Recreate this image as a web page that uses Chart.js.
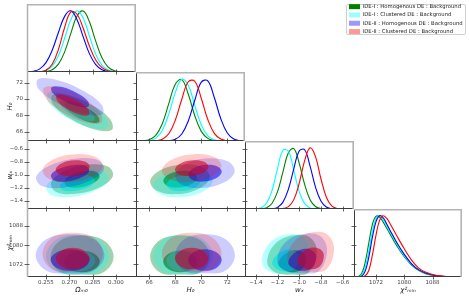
<!DOCTYPE html>
<html>
<head>
<meta charset="utf-8">
<script src="https://cdn.jsdelivr.net/npm/chart.js@4.4.1/dist/chart.umd.min.js"></script>
<style>
html, body { margin: 0; padding: 0; background: #fff; }
#fig { position: relative; width: 469px; height: 297px; overflow: hidden; }
#fig canvas { position: absolute; }
#legendBox { position: absolute; left: 346px; top: 4px; width: 120px; height: 31px; border: 1px solid #d0d0d0; border-radius: 2px; box-sizing: border-box; }
</style>
</head>
<body>
<div id="fig"><div id="legendBox"></div></div>
<script>
// ---- data ----
const seriesLabels = [
    'IDE-I : Homogenous DE : Background',
    'IDE-I : Clustered DE : Background',
    'IDE-II : Homogenous DE : Background',
    'IDE-II : Clustered DE : Background'
];
const paramTitles = ['Ωₘ₀', 'H₀', 'wₓ', 'χ²ₘᵢₙ'];

// tick labels
const omegaTicks = [0.255, 0.270, 0.285, 0.300];
const h0Ticks = [66, 68, 70, 72];
const wTicks = [-1.4, -1.2, -1.0, -0.8, -0.6];
const chiTicks = [1072, 1080, 1088];

// 1D marginals (green, cyan, blue, red)
const omGrid  = [0.243, 0.247, 0.251, 0.255, 0.259, 0.263, 0.267, 0.271, 0.275, 0.279, 0.283, 0.287, 0.291, 0.295, 0.299, 0.303, 0.307, 0.311];
const omGreen = [0, 0.0002, 0.0014, 0.0084, 0.038, 0.128, 0.328, 0.631, 0.913, 0.994, 0.815, 0.503, 0.233, 0.081, 0.021, 0.004, 0.0006, 0];
const omCyan  = [0, 0.0009, 0.0055, 0.027, 0.097, 0.266, 0.551, 0.855, 1.0, 0.879, 0.582, 0.290, 0.109, 0.031, 0.0065, 0.001, 0, 0];
const omBlue  = [0.0027, 0.0133, 0.051, 0.153, 0.355, 0.644, 0.908, 0.998, 0.854, 0.569, 0.296, 0.119, 0.038, 0.0093, 0.0018, 0, 0, 0];
const omRed   = [0, 0.0005, 0.005, 0.030, 0.127, 0.367, 0.726, 0.983, 0.943, 0.709, 0.420, 0.196, 0.072, 0.021, 0.005, 0.001, 0, 0];

const h0Grid  = [65, 65.5, 66, 66.5, 67, 67.5, 68, 68.5, 69, 69.5, 70, 70.5, 71, 71.5, 72, 72.5, 73, 73.5];
const h0Green = [0.0004, 0.0035, 0.021, 0.091, 0.278, 0.600, 0.914, 0.987, 0.753, 0.406, 0.155, 0.042, 0.008, 0.001, 0, 0, 0, 0];
const h0Cyan  = [0.0001, 0.0013, 0.0093, 0.047, 0.170, 0.433, 0.779, 0.993, 0.895, 0.571, 0.258, 0.082, 0.0185, 0.003, 0.0003, 0, 0, 0];
const h0Blue  = [0, 0, 0, 0.0001, 0.0006, 0.0047, 0.027, 0.112, 0.322, 0.656, 0.947, 0.967, 0.699, 0.357, 0.129, 0.033, 0.006, 0.0008];
const h0Red   = [0, 0.0001, 0.0006, 0.005, 0.029, 0.117, 0.334, 0.671, 0.954, 0.961, 0.684, 0.345, 0.123, 0.031, 0.0055, 0.0007, 0, 0];

const wGrid  = [-1.5, -1.45, -1.4, -1.35, -1.3, -1.25, -1.2, -1.15, -1.1, -1.05, -1.0, -0.95, -0.9, -0.85, -0.8, -0.75, -0.7, -0.65, -0.6, -0.55, -0.5];
const wGreen = [0, 0, 0.0004, 0.0037, 0.022, 0.093, 0.283, 0.607, 0.919, 0.984, 0.746, 0.401, 0.152, 0.041, 0.0077, 0.001, 0, 0, 0, 0, 0];
const wCyan  = [0, 0.0003, 0.003, 0.020, 0.097, 0.306, 0.660, 0.959, 0.945, 0.629, 0.283, 0.087, 0.018, 0.0025, 0.0002, 0, 0, 0, 0, 0, 0];
const wBlue  = [0, 0, 0, 0, 0.0006, 0.0048, 0.027, 0.112, 0.322, 0.656, 0.947, 0.967, 0.699, 0.356, 0.130, 0.033, 0.006, 0.0008, 0, 0, 0];
const wRed   = [0, 0, 0, 0, 0, 0, 0.0007, 0.0062, 0.038, 0.153, 0.422, 0.789, 0.998, 0.854, 0.494, 0.193, 0.051, 0.0093, 0.0011, 0, 0];

const chiGrid  = [1066, 1067, 1068, 1069, 1070, 1071, 1072, 1073, 1074, 1075, 1076, 1078, 1080, 1082, 1084, 1086, 1088, 1090, 1092, 1094, 1096];
const chiGreen = [0, 0.005, 0.06, 0.25, 0.56, 0.86, 0.99, 0.98, 0.90, 0.80, 0.70, 0.50, 0.33, 0.20, 0.11, 0.055, 0.027, 0.012, 0.005, 0.0015, 0];
const chiCyan  = [0, 0.002, 0.03, 0.16, 0.43, 0.75, 0.95, 1.0, 0.94, 0.84, 0.73, 0.53, 0.35, 0.21, 0.12, 0.06, 0.03, 0.013, 0.005, 0.0015, 0];
const chiBlue  = [0, 0.001, 0.015, 0.10, 0.33, 0.65, 0.90, 1.0, 0.97, 0.87, 0.76, 0.55, 0.37, 0.22, 0.12, 0.065, 0.032, 0.014, 0.006, 0.002, 0];
const chiRed   = [0, 0, 0.002, 0.02, 0.11, 0.36, 0.68, 0.92, 1.0, 0.96, 0.87, 0.66, 0.46, 0.28, 0.15, 0.08, 0.04, 0.018, 0.007, 0.002, 0];

// 2D contours, [x, y] outline points, order: green, cyan, blue, red
const omH0In = [
    [[0.2822,68.82],[0.2886,67.83],[0.2889,67.15],[0.2829,67.18],[0.2742,67.90],[0.2678,68.89],[0.2675,69.57],[0.2735,69.54]],
    [[0.2792,69.06],[0.2856,68.07],[0.2859,67.39],[0.2799,67.42],[0.2712,68.14],[0.2648,69.13],[0.2645,69.81],[0.2705,69.78]],
    [[0.2749,70.74],[0.2819,69.75],[0.2822,69.07],[0.2756,69.10],[0.2661,69.82],[0.2591,70.81],[0.2588,71.49],[0.2654,71.46]],
    [[0.2761,69.72],[0.2822,68.73],[0.2824,68.05],[0.2767,68.08],[0.2683,68.80],[0.2622,69.79],[0.2620,70.47],[0.2677,70.44]]
];
const omH0Out = [
    [[0.2854,69.17],[0.2967,67.42],[0.2972,66.21],[0.2865,66.27],[0.2710,67.55],[0.2597,69.30],[0.2593,70.51],[0.2699,70.45]],
    [[0.2824,69.41],[0.2937,67.66],[0.2942,66.45],[0.2835,66.51],[0.2680,67.79],[0.2567,69.54],[0.2563,70.75],[0.2669,70.69]],
    [[0.2783,71.09],[0.2907,69.34],[0.2912,68.13],[0.2796,68.19],[0.2627,69.47],[0.2503,71.22],[0.2498,72.43],[0.2614,72.37]],
    [[0.2791,70.07],[0.2899,68.32],[0.2904,67.11],[0.2802,67.17],[0.2653,68.45],[0.2545,70.20],[0.2540,71.41],[0.2642,71.35]]
];
const omWIn = [
    [[0.2877,-0.957],[0.2894,-1.039],[0.2845,-1.136],[0.2759,-1.192],[0.2687,-1.173],[0.2670,-1.091],[0.2720,-0.994],[0.2805,-0.939]],
    [[0.2847,-1.025],[0.2864,-1.102],[0.2815,-1.194],[0.2729,-1.246],[0.2657,-1.229],[0.2640,-1.152],[0.2690,-1.060],[0.2775,-1.008]],
    [[0.2809,-0.864],[0.2827,-0.946],[0.2773,-1.043],[0.2680,-1.099],[0.2601,-1.080],[0.2583,-0.998],[0.2637,-0.901],[0.2731,-0.846]],
    [[0.2807,-0.801],[0.2831,-0.883],[0.2791,-0.972],[0.2711,-1.016],[0.2637,-0.989],[0.2613,-0.907],[0.2653,-0.818],[0.2733,-0.774]]
];
const omWOut = [
    [[0.2951,-0.873],[0.2980,-1.018],[0.2893,-1.191],[0.2741,-1.290],[0.2613,-1.257],[0.2584,-1.112],[0.2671,-0.939],[0.2823,-0.840]],
    [[0.2921,-0.946],[0.2950,-1.083],[0.2863,-1.245],[0.2711,-1.338],[0.2583,-1.308],[0.2554,-1.171],[0.2641,-1.009],[0.2793,-0.916]],
    [[0.2890,-0.780],[0.2922,-0.925],[0.2826,-1.098],[0.2660,-1.197],[0.2520,-1.164],[0.2488,-1.019],[0.2584,-0.846],[0.2750,-0.747]],
    [[0.2873,-0.728],[0.2915,-0.873],[0.2845,-1.032],[0.2703,-1.110],[0.2571,-1.062],[0.2529,-0.917],[0.2599,-0.758],[0.2742,-0.680]]
];
const h0WIn = [
    [[69.36,-0.965],[69.65,-1.052],[69.18,-1.147],[68.23,-1.194],[67.36,-1.165],[67.08,-1.078],[67.54,-0.983],[68.49,-0.937]],
    [[69.60,-1.033],[69.89,-1.115],[69.42,-1.204],[68.47,-1.248],[67.60,-1.221],[67.32,-1.139],[67.78,-1.050],[68.73,-1.006]],
    [[71.28,-0.872],[71.57,-0.959],[71.10,-1.054],[70.15,-1.101],[69.28,-1.072],[69.00,-0.985],[69.46,-0.890],[70.41,-0.844]],
    [[70.26,-0.801],[70.55,-0.883],[70.08,-0.972],[69.13,-1.016],[68.26,-0.989],[67.98,-0.907],[68.44,-0.818],[69.39,-0.774]]
];
const h0WOut = [
    [[70.14,-0.887],[70.64,-1.042],[69.81,-1.210],[68.13,-1.293],[66.58,-1.243],[66.08,-1.088],[66.91,-0.920],[68.59,-0.837]],
    [[70.38,-0.960],[70.88,-1.105],[70.05,-1.264],[68.37,-1.342],[66.82,-1.294],[66.32,-1.149],[67.15,-0.990],[68.83,-0.912]],
    [[72.06,-0.794],[72.56,-0.949],[71.73,-1.117],[70.05,-1.200],[68.50,-1.150],[68.00,-0.995],[68.83,-0.827],[70.51,-0.744]],
    [[71.04,-0.728],[71.54,-0.873],[70.71,-1.032],[69.03,-1.110],[67.48,-1.062],[66.98,-0.917],[67.81,-0.758],[69.49,-0.680]]
];
const omChiIn = [
    [[0.2863,1076.3],[0.2896,1073.3],[0.2863,1070.0],[0.2782,1068.7],[0.2701,1070.0],[0.2668,1073.3],[0.2701,1076.3],[0.2782,1077.7]],
    [[0.2833,1076.6],[0.2866,1073.6],[0.2833,1070.3],[0.2752,1069.0],[0.2671,1070.3],[0.2638,1073.6],[0.2671,1076.6],[0.2752,1078.0]],
    [[0.2793,1076.9],[0.2830,1073.9],[0.2793,1070.6],[0.2705,1069.3],[0.2617,1070.6],[0.2580,1073.9],[0.2617,1076.9],[0.2705,1078.3]],
    [[0.2799,1077.5],[0.2831,1074.5],[0.2799,1071.2],[0.2722,1069.9],[0.2645,1071.2],[0.2613,1074.5],[0.2645,1077.5],[0.2722,1078.9]]
];
const omChiOut = [
    [[0.2925,1081.8],[0.2985,1075.0],[0.2917,1068.6],[0.2782,1067.7],[0.2647,1068.6],[0.2580,1075.0],[0.2640,1081.8],[0.2782,1084.0]],
    [[0.2895,1082.1],[0.2955,1075.3],[0.2887,1068.9],[0.2752,1068.0],[0.2617,1068.9],[0.2550,1075.3],[0.2610,1082.1],[0.2752,1084.3]],
    [[0.2861,1082.4],[0.2926,1075.6],[0.2853,1069.2],[0.2705,1068.3],[0.2557,1069.2],[0.2484,1075.6],[0.2549,1082.4],[0.2705,1084.6]],
    [[0.2859,1083.0],[0.2916,1076.2],[0.2852,1069.8],[0.2722,1068.9],[0.2592,1069.8],[0.2528,1076.2],[0.2585,1083.0],[0.2722,1085.2]]
];
const h0ChiIn = [
    [[69.27,1076.3],[69.65,1073.3],[69.27,1070.0],[68.36,1068.7],[67.45,1070.0],[67.07,1073.3],[67.45,1076.3],[68.36,1077.7]],
    [[69.51,1076.6],[69.89,1073.6],[69.51,1070.3],[68.60,1069.0],[67.69,1070.3],[67.31,1073.6],[67.69,1076.6],[68.60,1078.0]],
    [[71.19,1076.9],[71.57,1073.9],[71.19,1070.6],[70.28,1069.3],[69.37,1070.6],[68.99,1073.9],[69.37,1076.9],[70.28,1078.3]],
    [[70.17,1077.5],[70.55,1074.5],[70.17,1071.2],[69.26,1069.9],[68.35,1071.2],[67.97,1074.5],[68.35,1077.5],[69.26,1078.9]]
];
const h0ChiOut = [
    [[69.98,1081.8],[70.66,1075.0],[69.89,1068.6],[68.36,1067.7],[66.83,1068.6],[66.07,1075.0],[66.75,1081.8],[68.36,1084.0]],
    [[70.22,1082.1],[70.90,1075.3],[70.13,1068.9],[68.60,1068.0],[67.07,1068.9],[66.31,1075.3],[66.99,1082.1],[68.60,1084.3]],
    [[71.90,1082.4],[72.58,1075.6],[71.81,1069.2],[70.28,1068.3],[68.75,1069.2],[67.99,1075.6],[68.67,1082.4],[70.28,1084.6]],
    [[70.88,1083.0],[71.56,1076.2],[70.79,1069.8],[69.26,1068.9],[67.73,1069.8],[66.97,1076.2],[67.65,1083.0],[69.26,1085.2]]
];
const wChiIn = [
    [[-0.974,1077.2],[-0.936,1074.5],[-0.974,1070.0],[-1.065,1068.7],[-1.156,1070.0],[-1.194,1072.1],[-1.156,1075.4],[-1.065,1077.7]],
    [[-1.041,1077.5],[-1.005,1074.8],[-1.041,1070.3],[-1.127,1069.0],[-1.213,1070.3],[-1.249,1072.4],[-1.213,1075.7],[-1.127,1078.0]],
    [[-0.881,1077.8],[-0.843,1075.1],[-0.881,1070.6],[-0.972,1069.3],[-1.063,1070.6],[-1.101,1072.7],[-1.063,1076.0],[-0.972,1078.3]],
    [[-0.809,1078.4],[-0.773,1075.7],[-0.809,1071.2],[-0.895,1069.9],[-0.981,1071.2],[-1.017,1073.3],[-0.981,1076.6],[-0.895,1078.9]]
];
const wChiOut = [
    [[-0.904,1083.3],[-0.836,1077.2],[-0.912,1068.6],[-1.065,1067.7],[-1.218,1068.6],[-1.295,1072.8],[-1.227,1080.3],[-1.065,1084.0]],
    [[-0.975,1083.6],[-0.911,1077.5],[-0.983,1068.9],[-1.127,1068.0],[-1.271,1068.9],[-1.343,1073.1],[-1.279,1080.6],[-1.127,1084.3]],
    [[-0.811,1083.9],[-0.743,1077.8],[-0.819,1069.2],[-0.972,1068.3],[-1.125,1069.2],[-1.202,1073.4],[-1.134,1080.9],[-0.972,1084.6]],
    [[-0.743,1084.5],[-0.679,1078.4],[-0.751,1069.8],[-0.895,1068.9],[-1.039,1069.8],[-1.111,1074.0],[-1.047,1081.5],[-0.895,1085.2]]
];

// ---- layout / style ----
const colEdges = [27, 136, 245, 354, 462];
const rowEdges = [4, 72, 141, 209, 277];
const lineColors = ['#008000', '#00ffff', '#0000ff', '#ff0000'];
const outerFill = ['rgba(0,140,40,0.38)', 'rgba(0,255,255,0.28)', 'rgba(0,0,255,0.2)', 'rgba(255,0,0,0.2)'];
const innerFill = ['rgba(0,130,20,0.85)', 'rgba(0,210,210,0.6)', 'rgba(0,0,230,0.55)', 'rgba(190,0,50,0.6)'];
const legendFill = ['#008000', '#99ffff', '#9999ff', '#ff9999'];
const drawOrder = [3, 2, 1, 0]; // first series ends up on top
const dark = '#3c3c3c', light = '#b4b4b4';
const tickFont = {size: 5.5, family: 'DejaVu Sans'};
const titleFont = {size: 7, family: 'DejaVu Sans', style: 'italic'};

const minusFmt = v => (v < 0 ? '\u2212' : '') + Math.abs(v).toFixed(1);
const colAxes = [
    {min: 0.2428, max: 0.3129, ticks: omegaTicks, fmt: v => v.toFixed(3)},
    {min: 64.98, max: 73.36, ticks: h0Ticks, fmt: v => String(v)},
    {min: -1.50, max: -0.495, ticks: wTicks, fmt: minusFmt},
    {min: 1065.8, max: 1096.3, ticks: chiTicks, fmt: v => String(v)}
];
const rowAxes = [
    null,
    {min: 64.87, max: 73.31, ticks: h0Ticks, fmt: v => String(v)},
    {min: -1.523, max: -0.477, ticks: wTicks, fmt: minusFmt},
    {min: 1066.7, max: 1095.1, ticks: chiTicks, fmt: v => String(v)}
];

const diagPanels = [
    {grid: omGrid, curves: [omGreen, omCyan, omBlue, omRed]},
    {grid: h0Grid, curves: [h0Green, h0Cyan, h0Blue, h0Red]},
    {grid: wGrid, curves: [wGreen, wCyan, wBlue, wRed]},
    {grid: chiGrid, curves: [chiGreen, chiCyan, chiBlue, chiRed]}
];
const pairPanels = [
    {r: 1, c: 0, inner: omH0In, outer: omH0Out},
    {r: 2, c: 0, inner: omWIn, outer: omWOut},
    {r: 2, c: 1, inner: h0WIn, outer: h0WOut},
    {r: 3, c: 0, inner: omChiIn, outer: omChiOut},
    {r: 3, c: 1, inner: h0ChiIn, outer: h0ChiOut},
    {r: 3, c: 2, inner: wChiIn, outer: wChiOut}
];

// close contour lines into smooth loops
const loopPlugin = {
    id: 'closedShapes',
    afterDatasetUpdate(chart, args) {
        const ds = chart.data.datasets[args.index];
        const line = args.meta.dataset;
        if (ds.closed && line) {
            line._loop = true;
            line._fullLoop = true;
        }
    }
};

// spines and crossing tick marks
const framePlugin = {
    id: 'frame',
    afterDatasetsDraw(chart, args, o) {
        const {ctx, chartArea: a} = chart;
        ctx.save();
        ctx.lineWidth = 1;
        ctx.strokeStyle = dark;
        ctx.beginPath();
        ctx.moveTo(a.left, a.bottom - 0.5); ctx.lineTo(a.right, a.bottom - 0.5);
        ctx.stroke();
        if (o.outerLeft) {
            ctx.strokeStyle = light; ctx.lineWidth = 1.6;
        }
        ctx.beginPath();
        ctx.moveTo(a.left + 0.5, a.top); ctx.lineTo(a.left + 0.5, a.bottom);
        ctx.stroke();
        if (o.diag) {
            ctx.strokeStyle = light; ctx.lineWidth = 1.6;
            ctx.beginPath();
            ctx.moveTo(a.left, a.top + 0.8); ctx.lineTo(a.right, a.top + 0.8);
            ctx.moveTo(a.right - 0.8, a.top); ctx.lineTo(a.right - 0.8, a.bottom);
            ctx.stroke();
        }
        ctx.strokeStyle = dark;
        ctx.lineWidth = 0.8;
        ctx.beginPath();
        const sx = chart.scales.x;
        sx.ticks.forEach(t => {
            const px = Math.round(sx.getPixelForValue(t.value)) + 0.5;
            ctx.moveTo(px, a.bottom - 2.5); ctx.lineTo(px, a.bottom + (o.outX ? 2.5 : 0));
            if (o.topTicks) { ctx.moveTo(px, a.top); ctx.lineTo(px, a.top + 2.5); }
        });
        if (o.yId) {
            const sy = chart.scales[o.yId];
            sy.ticks.forEach(t => {
                const py = Math.round(sy.getPixelForValue(t.value)) + 0.5;
                ctx.moveTo(a.left - (o.outY ? 2.5 : 0), py); ctx.lineTo(a.left + 2.5, py);
                if (o.rightTicks) { ctx.moveTo(a.right - 2.5, py); ctx.lineTo(a.right, py); }
            });
        }
        ctx.stroke();
        ctx.restore();
    }
};

const fig = document.getElementById('fig');
function addCanvas(left, top, w, h) {
    const cv = document.createElement('canvas');
    cv.width = w; cv.height = h;
    cv.style.left = left + 'px'; cv.style.top = top + 'px';
    cv.style.width = w + 'px'; cv.style.height = h + 'px';
    fig.appendChild(cv);
    return cv;
}

function xScale(c, show) {
    const ax = colAxes[c];
    return {
        type: 'linear', position: 'bottom', min: ax.min, max: ax.max, display: show,
        afterBuildTicks: s => { s.ticks = ax.ticks.map(v => ({value: v})); },
        afterFit: s => { if (show) { s.height = 20; s.paddingLeft = 0; s.paddingRight = 0; } },
        grid: {display: false, drawTicks: false}, border: {display: false},
        ticks: {font: tickFont, color: '#444', padding: 2.5, maxRotation: 0, autoSkip: false, callback: v => ax.fmt(v)},
        title: {display: true, text: paramTitles[c], font: titleFont, color: '#222', padding: {top: 0, bottom: 3}}
    };
}

function yScale(r, show) {
    const ax = rowAxes[r];
    return {
        type: 'linear', position: 'left', min: ax.min, max: ax.max, display: show,
        afterBuildTicks: s => { s.ticks = ax.ticks.map(v => ({value: v})); },
        afterFit: s => { if (show) { s.width = 27; s.paddingTop = 0; s.paddingBottom = 0; } },
        grid: {display: false, drawTicks: false}, border: {display: false},
        ticks: {font: tickFont, color: '#444', padding: 4, autoSkip: false, callback: v => ax.fmt(v)},
        title: {display: true, text: paramTitles[r], font: titleFont, color: '#222', padding: {top: 6, bottom: 0}}
    };
}

function buildPanel(r, c, datasets) {
    const left = c === 0 ? 0 : colEdges[c];
    const top = rowEdges[r];
    const w = colEdges[c + 1] - left;
    const h = rowEdges[r + 1] - top + (r === 3 ? 20 : 0);
    const cv = addCanvas(left, top, w, h);
    const diag = r === c;
    const scales = {x: xScale(c, r === 3)};
    if (diag) {
        scales.y = {type: 'linear', display: false, min: 0, max: 1.11};
        if (r > 0) {
            const ax = rowAxes[r];
            scales.yp = {type: 'linear', axis: 'y', position: 'left', display: false, min: ax.min, max: ax.max,
                afterBuildTicks: s => { s.ticks = ax.ticks.map(v => ({value: v})); }};
        }
    } else {
        scales.y = yScale(r, c === 0);
    }
    new Chart(cv, {
        type: 'scatter',
        data: {datasets},
        options: {
            responsive: false, animation: false, events: [], devicePixelRatio: 1,
            layout: {padding: {left: (diag && c === 0) ? 27 : 0}},
            scales,
            plugins: {
                legend: {display: false},
                tooltip: {enabled: false},
                frame: {
                    diag,
                    outerLeft: c === 0,
                    outX: r === 3,
                    outY: c === 0 && !diag,
                    topTicks: !diag,
                    rightTicks: !diag,
                    yId: diag ? (r > 0 ? 'yp' : null) : 'y'
                }
            }
        },
        plugins: [loopPlugin, framePlugin]
    });
}

// diagonal panels: 1D curves
diagPanels.forEach((p, i) => {
    const datasets = drawOrder.map(s => ({
        data: p.grid.map((x, k) => ({x, y: p.curves[s][k]})),
        showLine: true, borderColor: lineColors[s], borderWidth: 1.1,
        pointRadius: 0, tension: 0.4, fill: false
    }));
    buildPanel(i, i, datasets);
});

// off-diagonal panels: filled 68% / 95% contours
pairPanels.forEach(p => {
    const datasets = [];
    drawOrder.forEach(s => {
        [[p.outer[s], outerFill[s]], [p.inner[s], innerFill[s]]].forEach(([pts, col]) => {
            datasets.push({
                data: pts.map(([x, y]) => ({x, y})),
                closed: true, showLine: true, borderWidth: 0, pointRadius: 0,
                tension: 0.38, capBezierPoints: false, fill: 'shape', backgroundColor: col
            });
        });
    });
    buildPanel(p.r, p.c, datasets);
});

// legend
const legendCanvas = addCanvas(346, 1, 120, 72);
new Chart(legendCanvas, {
    type: 'bar',
    data: {
        labels: [],
        datasets: seriesLabels.map((label, i) => ({label, data: [], backgroundColor: legendFill[i], borderWidth: 0}))
    },
    options: {
        responsive: false, animation: false, events: [], devicePixelRatio: 1,
        layout: {padding: 0},
        scales: {x: {display: false}, y: {display: false}},
        plugins: {
            tooltip: {enabled: false},
            legend: {
                position: 'top', align: 'start',
                labels: {boxWidth: 11, boxHeight: 5, padding: 3, color: '#222', font: {size: 5.3, family: 'DejaVu Sans'}}
            }
        }
    }
});
</script>
</body>
</html>
